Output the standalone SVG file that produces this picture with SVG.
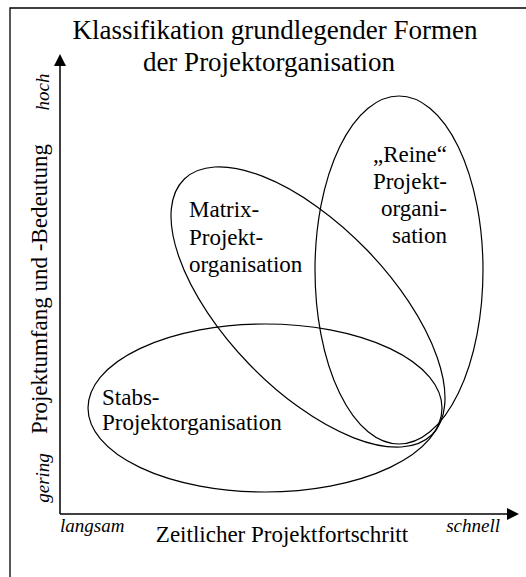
<svg xmlns="http://www.w3.org/2000/svg" width="526" height="577" viewBox="0 0 526 577">
  <style>
    .frame { fill: none; stroke: #000; stroke-width: 1.3; }
    .axis { fill: none; stroke: #000; stroke-width: 1.5; }
    .shape { fill: none; stroke: #000; stroke-width: 1.2; }
    text { font-family: "Liberation Serif", "Times New Roman", serif; fill: #000; }
    .title { font-size: 27px; text-anchor: middle; }
    .label { font-size: 23px; }
    .scale { font-size: 19px; font-style: italic; }
  </style>
  <defs>
    <marker id="arrow" viewBox="0 0 12 12" refX="0" refY="6" markerWidth="12" markerHeight="12" markerUnits="userSpaceOnUse" orient="auto">
      <path d="M0,0 L12,6 L0,12 Z" fill="#000"/>
    </marker>
  </defs>

  <!-- outer frame (left and top edges) -->
  <path class="frame" d="M10,577 V8 H526"/>

  <!-- title -->
  <g id="title">
    <text class="title" x="275" y="39">Klassifikation grundlegender Formen</text>
    <text class="title" x="269" y="71">der Projektorganisation</text>
  </g>

  <!-- axes -->
  <g id="axes">
    <path class="axis" d="M60,514 V66" marker-end="url(#arrow)"/>
    <path class="axis" d="M60,514 H507" marker-end="url(#arrow)"/>
    <text class="label" transform="translate(47,289) rotate(-90)" text-anchor="middle">Projektumfang und -Bedeutung</text>
    <text class="scale" transform="translate(49,92) rotate(-90)" text-anchor="middle">hoch</text>
    <text class="scale" transform="translate(49,478) rotate(-90)" text-anchor="middle">gering</text>
    <text class="scale" x="60" y="532">langsam</text>
    <text class="scale" x="500" y="532" text-anchor="end">schnell</text>
    <text class="label" x="282" y="542" text-anchor="middle">Zeitlicher Projektfortschritt</text>
  </g>

  <!-- organisation forms -->
  <g id="stabs">
    <ellipse class="shape" cx="265" cy="408" rx="177" ry="84"/>
    <text class="label" x="102" y="405">Stabs-</text>
    <text class="label" x="102" y="430">Projektorganisation</text>
  </g>
  <g id="matrix">
    <ellipse class="shape" cx="0" cy="0" rx="178" ry="82" transform="translate(308,307) rotate(46)"/>
    <text class="label" x="189" y="217">Matrix-</text>
    <text class="label" x="189" y="245">Projekt-</text>
    <text class="label" x="189" y="272">organisation</text>
  </g>
  <g id="reine">
    <ellipse class="shape" cx="399" cy="270" rx="84" ry="174"/>
    <text class="label" x="447" y="162" text-anchor="end">„Reine“</text>
    <text class="label" x="447" y="189" text-anchor="end">Projekt-</text>
    <text class="label" x="447" y="216" text-anchor="end">organi-</text>
    <text class="label" x="447" y="243" text-anchor="end">sation</text>
  </g>
</svg>
